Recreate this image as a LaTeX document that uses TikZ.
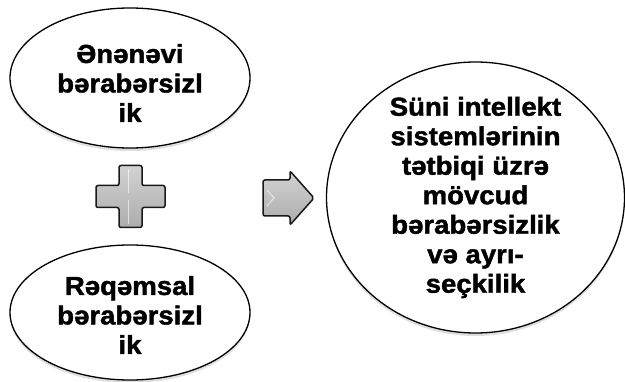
\documentclass[tikz,border=0pt]{standalone}
\usepackage{fontspec}
\newfontfamily\lab[FakeStretch=1.06, FakeBold=1.6]{Liberation Sans Bold}
\usetikzlibrary{shapes.geometric,shadows}
\tikzset{
  blob/.style={ellipse, draw=black, line width=1.3pt, fill=white, inner sep=0pt,
    drop shadow={opacity=0.25, shadow xshift=0pt, shadow yshift=-3pt}},
  txt/.style={align=center, inner sep=0pt, font=\lab\fontsize{26}{29.5}\selectfont},
  sym/.style={draw=black!90, line width=1.5pt, rounded corners=2pt, top color=gray!35, bottom color=gray!65, middle color=gray!50},
  bevel/.style={draw=white, line width=1pt, opacity=0.6, line cap=round}
}
\begin{document}
\begin{tikzpicture}[x=1pt,y=1pt]
\useasboundingbox (0,0) rectangle (625,381);
% ellipses
\node[blob, minimum width=240pt, minimum height=140pt] (top) at (130,303) {};
\node[txt] (topt) at (130,298) {Ənənəvi\\bərabərsizl\\ik};
\node[blob, minimum width=240pt, minimum height=135pt] (bot) at (130,68.5) {};
\node[txt] (bott) at (130,66) {Rəqəmsal\\bərabərsizl\\ik};
\node[blob, minimum width=298pt, minimum height=271pt] (res) at (475.5,183.5) {};
\node[txt] (rest) at (475.5,183.5) {Süni intellekt\\sistemlərinin\\tətbiqi üzrə\\mövcud\\bərabərsizlik\\və ayrı-\\seçkilik};
% plus sign
\coordinate (pc) at (130.5,184.5);
\path[sym] ([shift={(-11.5,31)}]pc) -- ([shift={(11.5,31)}]pc) -- ([shift={(11.5,11)}]pc)
  -- ([shift={(34.5,11)}]pc) -- ([shift={(34.5,-11)}]pc) -- ([shift={(11.5,-11)}]pc)
  -- ([shift={(11.5,-31)}]pc) -- ([shift={(-11.5,-31)}]pc) -- ([shift={(-11.5,-11)}]pc)
  -- ([shift={(-34.5,-11)}]pc) -- ([shift={(-34.5,11)}]pc) -- ([shift={(-11.5,11)}]pc) -- cycle;
\draw[bevel] ([shift={(-2,27)}]pc) -- ([shift={(-2,4)}]pc);
\draw[bevel] ([shift={(-2,-4)}]pc) -- ([shift={(-2,-27)}]pc);
% arrow
\coordinate (ac) at (263,183);
\path[sym] ([shift={(0,18)}]ac) -- ([shift={(27,18)}]ac) -- ([shift={(27,27)}]ac)
  -- ([shift={(51,0)}]ac) -- ([shift={(27,-27)}]ac) -- ([shift={(27,-18)}]ac)
  -- ([shift={(0,-18)}]ac) -- cycle;
\draw[bevel] ([shift={(4,8)}]ac) -- ([shift={(11,0)}]ac) -- ([shift={(4,-8)}]ac);
\end{tikzpicture}
\end{document}
